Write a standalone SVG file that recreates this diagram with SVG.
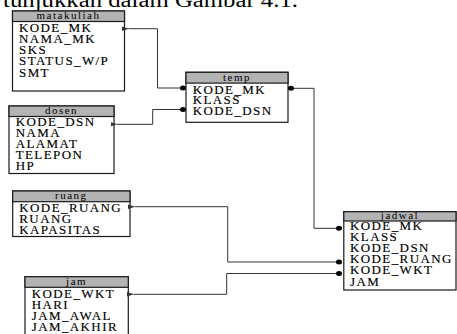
<svg xmlns="http://www.w3.org/2000/svg" width="457" height="334" viewBox="0 0 457 334">
<style>
.box{fill:#fff;stroke:#1a1a1a;stroke-width:1.2}
.hd{fill:#b3b3b3;stroke:#1a1a1a;stroke-width:1.2}
.ht{font-family:"Liberation Serif",serif;font-size:11px;letter-spacing:1.5px;fill:#000;text-anchor:middle}
.rt{font-family:"Liberation Serif",serif;font-size:13px;letter-spacing:1.4px;fill:#000;stroke:#000;stroke-width:0.15}
.cn{fill:none;stroke:#333;stroke-width:1}
.dot{fill:#000}
</style>
<defs>
<marker id="arr" markerWidth="7" markerHeight="6" refX="0.5" refY="3" orient="auto" markerUnits="userSpaceOnUse">
<path d="M7,0.8 L0,3 L7,5.2 Z" fill="#333"/>
</marker>
</defs>
<rect width="457" height="334" fill="#fff"/>
<text x="3" y="6.5" font-family="Liberation Serif, serif" font-size="20" textLength="295" lengthAdjust="spacingAndGlyphs" fill="#000">tunjukkan dalam Gambar 4.1.</text>

<g id="matakuliah">
<rect class="box" x="12.5" y="11" width="112" height="80"/>
<rect class="hd" x="12.5" y="11" width="112" height="10.5"/>
<text class="ht" x="68.5" y="19.3">matakuliah</text>
<text class="rt" x="19" y="31.5">KODE_MK</text>
<text class="rt" x="19" y="42.8">NAMA_MK</text>
<text class="rt" x="19" y="54">SKS</text>
<text class="rt" x="19" y="65.3">STATUS_W/P</text>
<text class="rt" x="19" y="76.5">SMT</text>
</g>

<g id="temp">
<rect class="box" x="186" y="72.3" width="102" height="50"/>
<rect class="hd" x="186" y="72.3" width="102" height="10.8"/>
<text class="ht" x="237" y="80.9">temp</text>
<text class="rt" x="192.7" y="93.5">KODE_MK</text>
<text class="rt" x="192.7" y="104.3">KLASS</text>
<text class="rt" x="192.7" y="115.2">KODE_DSN</text>
</g>

<g id="dosen">
<rect class="box" x="9" y="106" width="105" height="67.5"/>
<rect class="hd" x="9" y="106" width="105" height="10.5"/>
<text class="ht" x="61.5" y="114.3">dosen</text>
<text class="rt" x="15.7" y="126.3">KODE_DSN</text>
<text class="rt" x="15.7" y="137.3">NAMA</text>
<text class="rt" x="15.7" y="148.3">ALAMAT</text>
<text class="rt" x="15.7" y="159.2">TELEPON</text>
<text class="rt" x="15.7" y="170.3">HP</text>
</g>

<g id="ruang">
<rect class="box" x="12.7" y="191" width="117.3" height="45.5"/>
<rect class="hd" x="12.7" y="191" width="117.3" height="10.7"/>
<text class="ht" x="71.3" y="199.4">ruang</text>
<text class="rt" x="19.3" y="212.3">KODE_RUANG</text>
<text class="rt" x="19.3" y="223.3">RUANG</text>
<text class="rt" x="19.3" y="234">KAPASITAS</text>
</g>

<g id="jam">
<rect class="box" x="25" y="276.7" width="103.3" height="60"/>
<rect class="hd" x="25" y="276.7" width="103.3" height="10.6"/>
<text class="ht" x="76.6" y="285.2">jam</text>
<text class="rt" x="31.7" y="297.7">KODE_WKT</text>
<text class="rt" x="31.7" y="308.6">HARI</text>
<text class="rt" x="31.7" y="319.8">JAM_AWAL</text>
<text class="rt" x="31.7" y="331">JAM_AKHIR</text>
</g>

<g id="jadwal">
<rect class="box" x="343.8" y="211.7" width="112.2" height="78.3"/>
<rect class="hd" x="343.8" y="211.7" width="112.2" height="9.3"/>
<text class="ht" x="400" y="219.2">jadwal</text>
<text class="rt" x="350" y="229.6">KODE_MK</text>
<text class="rt" x="350" y="241">KLASS</text>
<text class="rt" x="350" y="252.3">KODE_DSN</text>
<text class="rt" x="350" y="263.3">KODE_RUANG</text>
<text class="rt" x="350" y="274.3">KODE_WKT</text>
<text class="rt" x="350" y="285.5">JAM</text>
</g>

<g id="connectors">
<path class="cn" d="M183,88 H157.5 V28.7 H128.5" marker-end="url(#arr)"/>
<path class="cn" d="M183,109.5 H152.7 V124.3 H117" marker-end="url(#arr)"/>
<path class="cn" d="M291,88.3 H314 V228.3 H339"/>
<path class="cn" d="M338.5,262 H227.7 V206.7 H134.5" marker-end="url(#arr)"/>
<path class="cn" d="M338.5,273.5 H226.7 V294.3 H133.5" marker-end="url(#arr)"/>
<ellipse class="dot" cx="183" cy="88" rx="3" ry="2.5"/>
<ellipse class="dot" cx="183" cy="109.5" rx="3" ry="2.5"/>
<ellipse class="dot" cx="291" cy="88.3" rx="3" ry="2.5"/>
<ellipse class="dot" cx="339" cy="228.3" rx="3" ry="2.5"/>
<ellipse class="dot" cx="339" cy="262" rx="3" ry="2.5"/>
<ellipse class="dot" cx="339" cy="273.5" rx="3" ry="2.5"/>
</g>
</svg>
